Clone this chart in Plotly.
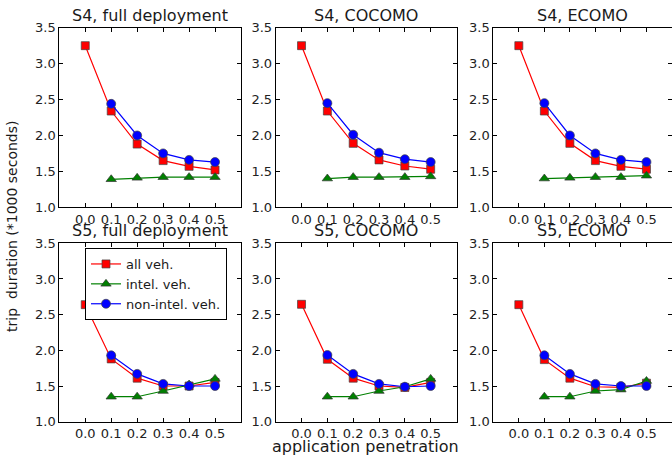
import plotly.graph_objects as go

# ---- data ----
pen = [0.0, 0.1, 0.2, 0.3, 0.4, 0.5]
pen_intel = [0.1, 0.2, 0.3, 0.4, 0.5]

titles = ["S4, full deployment", "S4, COCOMO", "S4, ECOMO",
          "S5, full deployment", "S5, COCOMO", "S5, ECOMO"]

all_veh = [
    [3.25, 2.34, 1.88, 1.65, 1.57, 1.52],
    [3.25, 2.34, 1.89, 1.66, 1.575, 1.53],
    [3.25, 2.34, 1.89, 1.65, 1.57, 1.53],
    [2.64, 1.88, 1.61, 1.50, 1.50, 1.55],
    [2.645, 1.875, 1.61, 1.50, 1.48, 1.55],
    [2.64, 1.87, 1.61, 1.49, 1.48, 1.54],
]
intel_veh = [
    [1.39, 1.41, 1.42, 1.42, 1.42],
    [1.40, 1.42, 1.42, 1.42, 1.43],
    [1.40, 1.41, 1.42, 1.42, 1.44],
    [1.35, 1.35, 1.43, 1.52, 1.60],
    [1.35, 1.35, 1.43, 1.49, 1.60],
    [1.35, 1.35, 1.43, 1.45, 1.57],
]
nonintel_veh = [
    [2.44, 2.00, 1.75, 1.66, 1.63],
    [2.45, 2.01, 1.76, 1.67, 1.63],
    [2.45, 2.00, 1.75, 1.66, 1.63],
    [1.93, 1.67, 1.53, 1.50, 1.50],
    [1.935, 1.67, 1.53, 1.49, 1.50],
    [1.93, 1.67, 1.53, 1.50, 1.50],
]
x_ticks = [0.0, 0.1, 0.2, 0.3, 0.4, 0.5]
x_ticklabels = ["0.0", "0.1", "0.2", "0.3", "0.4", "0.5"]
y_ticks = [1.0, 1.5, 2.0, 2.5, 3.0, 3.5]
y_ticklabels = ["1.0", "1.5", "2.0", "2.5", "3.0", "3.5"]

W, H = 672, 457
FONT = "DejaVu Sans"
TXT = "#1a1a1a"

# panel pixel boxes (left, right) and (top, bottom)
xcols = [(59.3, 241.0), (275.7, 456.5), (493.3, 672.0)]
yrows = [(27.7, 207.3), (243.3, 421.7)]

fig = go.Figure()
layout = dict(
    width=W, height=H,
    margin=dict(l=0, r=0, t=0, b=0, pad=0, autoexpand=False),
    paper_bgcolor="white", plot_bgcolor="white",
    font=dict(family=FONT, size=13, color=TXT),
    showlegend=True,
    legend=dict(x=85 / W, y=1 - 248 / H, xanchor="left", yanchor="top",
                bgcolor="white", bordercolor="black", borderwidth=1,
                font=dict(family=FONT, size=13, color=TXT),
                tracegroupgap=0, itemwidth=30),
)
annotations = []

for i in range(6):
    r, c = divmod(i, 3)
    xa = "x" if i == 0 else f"x{i+1}"
    ya = "y" if i == 0 else f"y{i+1}"
    xl, xr = xcols[c]
    yt, yb = yrows[r]
    dom_x = [xl / W, xr / W]
    dom_y = [1 - yb / H, 1 - yt / H]
    axkey = "xaxis" if i == 0 else f"xaxis{i+1}"
    aykey = "yaxis" if i == 0 else f"yaxis{i+1}"
    layout[axkey] = dict(
        domain=dom_x, anchor=ya, range=[-0.1, 0.6],
        tickvals=x_ticks, ticktext=x_ticklabels,
        ticks="inside", ticklen=4, tickwidth=1, tickcolor="black",
        showline=True, linecolor="black", linewidth=1, mirror="ticks",
        showgrid=False, zeroline=False, automargin=False,
        tickfont=dict(family=FONT, size=13, color="#222"),
    )
    layout[aykey] = dict(
        domain=dom_y, anchor=xa, range=[1.0, 3.5],
        tickvals=y_ticks, ticktext=y_ticklabels,
        ticks="inside", ticklen=4, tickwidth=1, tickcolor="black",
        showline=True, linecolor="black", linewidth=1, mirror="ticks",
        showgrid=False, zeroline=False, automargin=False,
        tickfont=dict(family=FONT, size=13, color="#222"),
    )
    show = (i == 0)
    fig.add_trace(go.Scatter(
        x=pen, y=all_veh[i], mode="lines+markers", name="all veh.",
        xaxis=xa, yaxis=ya, showlegend=show,
        line=dict(color="#ff0000", width=1.2),
        marker=dict(symbol="square", size=8, color="#ff0000",
                    line=dict(color="#444", width=0.7)),
    ))
    fig.add_trace(go.Scatter(
        x=pen_intel, y=intel_veh[i], mode="lines+markers", name="intel. veh.",
        xaxis=xa, yaxis=ya, showlegend=show,
        line=dict(color="#008000", width=1.2),
        marker=dict(symbol="triangle-up", size=9, color="#008000",
                    line=dict(color="#333", width=0.7)),
    ))
    fig.add_trace(go.Scatter(
        x=pen_intel, y=nonintel_veh[i], mode="lines+markers", name="non-intel. veh.",
        xaxis=xa, yaxis=ya, showlegend=show,
        line=dict(color="#0000ff", width=1.2),
        marker=dict(symbol="circle", size=9, color="#0000ff",
                    line=dict(color="#444", width=0.7)),
    ))
    annotations.append(dict(
        text=titles[i], xref="paper", yref="paper",
        x=(xl + xr) / 2 / W, y=1 - yt / H, xanchor="center", yanchor="bottom",
        yshift=1, showarrow=False, font=dict(family=FONT, size=16, color=TXT),
    ))

annotations.append(dict(
    text="trip\u00a0 duration (*1000 seconds)", xref="paper", yref="paper",
    x=12 / W, y=1 - 226 / H, xanchor="center", yanchor="middle", textangle=-90,
    showarrow=False, font=dict(family=FONT, size=14, color=TXT),
))
annotations.append(dict(
    text="application penetration", xref="paper", yref="paper",
    x=366 / W, y=1 - 446 / H, xanchor="center", yanchor="middle",
    showarrow=False, font=dict(family=FONT, size=16, color=TXT),
))
layout["annotations"] = annotations
fig.update_layout(**layout)
fig.write_html(
    "out.html",
    config={"displayModeBar": False},
    post_script="document.body.style.margin='0';document.body.style.overflow='hidden';",
)
